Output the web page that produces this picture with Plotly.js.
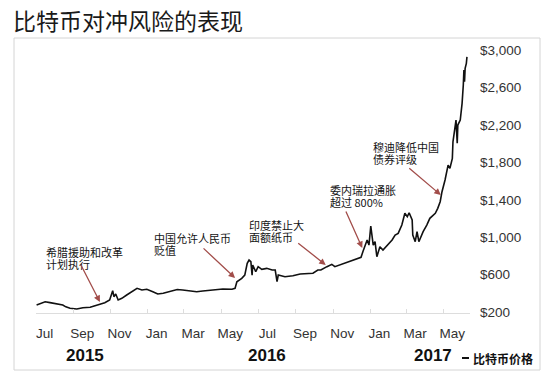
<!DOCTYPE html>
<html><head><meta charset="utf-8">
<script src="https://cdn.plot.ly/plotly-3.0.1.min.js"></script>
<style>html,body{margin:0;padding:0;background:#fff;} #chart{width:557px;height:388px;}</style>
</head><body><div id="chart"></div>
<script>
// ---- data ----
const dates = [
 '2015-07-03','2015-07-10','2015-07-17','2015-07-25','2015-08-07','2015-08-15','2015-08-20','2015-08-27',
 '2015-09-07','2015-09-17','2015-09-29','2015-10-10','2015-10-23','2015-10-31','2015-11-05','2015-11-07',
 '2015-11-10','2015-11-14','2015-11-20','2015-11-28','2015-12-07','2015-12-15','2015-12-23','2015-12-31',
 '2016-01-10','2016-01-18','2016-01-27','2016-02-07','2016-02-19','2016-02-28','2016-03-11','2016-03-22',
 '2016-04-01','2016-04-13','2016-04-24','2016-05-04','2016-05-19','2016-05-24','2016-05-27','2016-06-04',
 '2016-06-09','2016-06-13','2016-06-16','2016-06-19','2016-06-21','2016-06-22','2016-06-27','2016-07-01',
 '2016-07-07','2016-07-15','2016-07-24','2016-07-29','2016-08-01','2016-08-03','2016-08-14','2016-08-27',
 '2016-09-08','2016-09-19','2016-09-29','2016-10-07','2016-10-12','2016-10-22','2016-10-30','2016-11-04',
 '2016-11-12','2016-11-24','2016-12-04','2016-12-12','2016-12-17','2016-12-20','2016-12-27','2016-12-30',
 '2017-01-02','2017-01-06','2017-01-09','2017-01-12','2017-01-17','2017-01-22','2017-01-29','2017-02-06',
 '2017-02-11','2017-02-16','2017-02-22','2017-02-27','2017-03-03','2017-03-06','2017-03-11','2017-03-12',
 '2017-03-16','2017-03-19','2017-03-22','2017-03-29','2017-04-04','2017-04-09','2017-04-18','2017-04-22',
 '2017-04-26','2017-04-29','2017-05-04','2017-05-07','2017-05-09','2017-05-12','2017-05-16','2017-05-17',
 '2017-05-20','2017-05-22','2017-05-24','2017-05-25','2017-05-29','2017-06-01','2017-06-03','2017-06-04',
 '2017-06-05','2017-06-06','2017-06-08','2017-06-09'
];
const prices = [
 275,290,310,300,285,275,255,240,
 232,246,250,275,300,328,428,364,
 392,328,346,382,417,453,435,443,
 417,392,400,417,440,435,425,417,
 425,435,443,446,443,453,524,560,
 595,720,756,738,595,703,631,685,
 657,667,649,649,524,595,578,588,
 606,614,615,649,649,685,710,685,
 703,727,756,774,785,845,970,916,
 1120,916,952,791,898,863,916,970,
 1023,1041,1130,1256,1220,1262,1184,1023,
 952,1059,952,1059,1130,1202,1256,1309,
 1380,1487,1612,1719,1772,1737,1844,2021,
 2164,2253,2005,2200,2253,2432,2628,2788,
 2663,2806,2860,2930
];
const monthTicks = ['2015-07-16','2015-09-16','2015-11-16','2016-01-16','2016-03-16','2016-05-16',
                    '2016-07-16','2016-09-16','2016-11-16','2017-01-16','2017-03-16','2017-05-16'];
const monthLabels = ['Jul','Sep','Nov','Jan','Mar','May','Jul','Sep','Nov','Jan','Mar','May'];
const priceTicks = [200,600,1000,1400,1800,2200,2600,3000];
const yearLabels = ['2015','2016','2017'];
const noteLine1 = ['希腊援助和改革','中国允许人民币','印度禁止大','委内瑞拉通胀','穆迪降低中国'];
const noteLine2 = ['计划执行','贬值','面额纸币','超过 800%','债券评级'];
const noteDates = ['2015-10-15','2016-05-24','2016-10-20','2016-12-19','2017-04-27'];
const notePrices = [307,564,703,885,1452];
const seriesName = '比特币价格';

// ---- layout helpers (pixel -> paper) ----
const W = 557, H = 388;
const L = 36, R = 470, T = 40, B = 313;
const px = x => (x - L) / (R - L);
const py = y => (B - y) / (B - T);

const textFont = {family: '"Noto Sans CJK SC", sans-serif', size: 11, color: '#141414'};
const notePos = [[44,252],[152,238],[247,225],[328,190],[371,147]];
const arrowOff = [[-20,-39],[-33,-31],[-29,-23],[-17,-38],[-33,-28]];
const yearPos = ['2015-09-20','2016-07-16','2017-04-14'];

const annotations = [];
noteLine1.forEach((t, i) => {
  annotations.push({xref:'paper', yref:'paper', x: px(notePos[i][0]), y: py(notePos[i][1]), text: t,
    showarrow:false, xanchor:'left', yanchor:'middle', font: textFont});
  annotations.push({xref:'paper', yref:'paper', x: px(notePos[i][0]), y: py(notePos[i][1] + 12), text: noteLine2[i],
    showarrow:false, xanchor:'left', yanchor:'middle', font: textFont});
  annotations.push({xref:'x', yref:'y', x: noteDates[i], y: notePrices[i], text: '', showarrow:true,
    ax: arrowOff[i][0], ay: arrowOff[i][1], arrowhead: 2, arrowsize: 1, arrowwidth: 1.3,
    arrowcolor: '#a24d4a', standoff: 0});
});
yearLabels.forEach((t, i) => {
  annotations.push({xref:'x', yref:'paper', x: yearPos[i], y: py(355), text: '<b>' + t + '</b>', showarrow:false,
    xanchor:'center', yanchor:'middle',
    font: {family: '"Liberation Sans Narrow", "Arial Narrow", "Liberation Sans", Arial, sans-serif', size: 17, color: '#111'}});
});
annotations.push({xref:'paper', yref:'paper', x: px(471), y: py(358), text: '<b>' + seriesName + '</b>', showarrow:false,
  xanchor:'left', yanchor:'middle', font: {family: '"Noto Sans CJK SC", sans-serif', size: 12, color: '#111'}});

const shapes = [
  {type:'rect', xref:'paper', yref:'paper', x0: px(14), x1: px(540), y0: py(370), y1: py(38),
   line:{color:'#d4d4d4', width:1}, fillcolor:'rgba(0,0,0,0)', layer:'below'},
  {type:'line', xref:'paper', yref:'paper', x0: px(462), x1: px(469), y0: py(358), y1: py(358),
   line:{color:'#111', width:2}}
];

const tickFont = {family: '"Liberation Sans", Arial, sans-serif', size: 13.5, color: '#333'};
const priceLabels = priceTicks.map(v => '$' + v.toLocaleString('en-US'));

Plotly.newPlot('chart', [{
  type:'scatter', mode:'lines', x: dates, y: prices, name: seriesName,
  line: {color:'#111', width:1.6}, hoverinfo:'skip'
}], {
  width: W, height: H,
  margin: {l: L, r: W - R, t: T, b: H - B, pad: 0},
  paper_bgcolor:'#fff', plot_bgcolor:'#fff', showlegend:false,
  title: {text:'比特币对冲风险的表现', xref:'container', yref:'container', x: 13/W, xanchor:'left',
          y: 1 - 22/H, yanchor:'middle',
          font:{family:'"Noto Sans CJK SC", sans-serif', size:23, color:'#1a1a1a'}},
  xaxis: {type:'date', range:['2015-07-02','2017-06-14'], tickmode:'array', tickvals: monthTicks, ticktext: monthLabels,
          ticks:'', showgrid:false, zeroline:false, showline:true, linecolor:'#dddddd', linewidth:1,
          tickfont: tickFont, ticklabelstandoff: 8,
          minor: {tick0:'2015-07-01', dtick:'M2', ticks:'inside', ticklen:4, tickcolor:'#dddddd', showgrid:false},
          fixedrange:true},
  yaxis: {side:'right', range:[189.3, 3110], tickmode:'array', tickvals: priceTicks, ticktext: priceLabels,
          ticks:'', showgrid:false, zeroline:false, showline:false, tickfont: tickFont, ticklabelstandoff: 9,
          fixedrange:true},
  annotations: annotations,
  shapes: shapes
}, {staticPlot:true, displayModeBar:false});
</script>
</body></html>
